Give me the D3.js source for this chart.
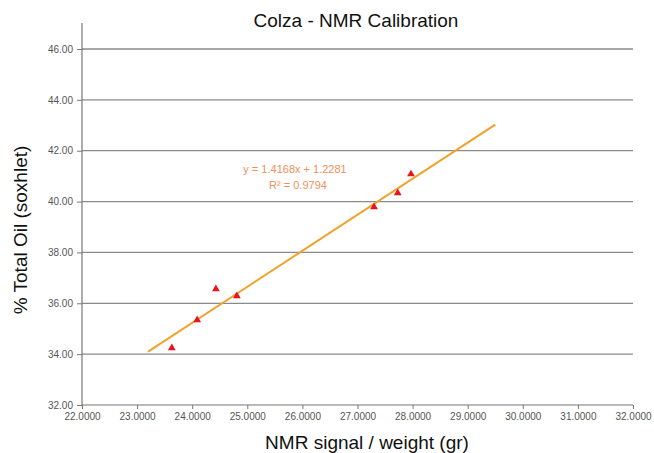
<!DOCTYPE html>
<html><head><meta charset="utf-8">
<script src="https://cdn.jsdelivr.net/npm/d3@7"></script>
<style>body{margin:0;background:#fff}svg{display:block}</style>
</head><body>
<svg id="c" width="654" height="453"></svg>
<script>
const xVals = [23.63, 24.09, 24.43, 24.81, 27.30, 27.73, 27.97];
const yVals = [34.24, 35.34, 36.56, 36.29, 39.79, 40.34, 41.08];
const xTicks = [22,23,24,25,26,27,28,29,30,31,32];
const yTicks = [32,34,36,38,40,42,44,46];
const trendSlope = 1.4168, trendIntercept = 1.2281;
const trendRange = [23.2, 29.5];
const eqText = ["y = 1.4168x + 1.2281", "R² = 0.9794"];

const svg = d3.select("#c");
const x = d3.scaleLinear().domain([22,32]).range([82,633]);
const y = d3.scaleLinear().domain([32,46]).range([405,49]);
const font = "Arial, 'Liberation Sans', sans-serif";

// gridlines
svg.append("g").selectAll("line").data(yTicks.filter(d=>d>32)).join("line")
  .attr("x1",x(22)).attr("x2",x(32)).attr("y1",d=>y(d)).attr("y2",d=>y(d))
  .attr("stroke","#8a8a8a").attr("stroke-width",1.3);

// axes
const yAxis = svg.append("g").attr("transform",`translate(${x(22)},0)`)
  .call(d3.axisLeft(y).tickValues(yTicks).tickFormat(d3.format(".2f")).tickSize(5).tickSizeOuter(0));
const xAxis = svg.append("g").attr("transform",`translate(0,${y(32)})`)
  .call(d3.axisBottom(x).tickValues(xTicks).tickFormat(d3.format(".4f")).tickSize(4).tickSizeOuter(0));
[yAxis,xAxis].forEach(a=>{
  a.select(".domain").remove();
  a.selectAll("line").attr("stroke","#777");
  a.selectAll("text").attr("fill","#555").style("font-family",font).style("font-size","10px");
});
xAxis.selectAll("text").attr("dy","0.8em");
yAxis.selectAll("text").attr("dx","-1");
svg.append("line").attr("x1",x(22)).attr("x2",x(22)).attr("y1",23).attr("y2",y(32))
  .attr("stroke","#777").attr("stroke-width",1.2);
svg.append("line").attr("x1",x(22)).attr("x2",x(32)).attr("y1",y(32)).attr("y2",y(32))
  .attr("stroke","#777").attr("stroke-width",1.2);

// trendline
svg.append("line")
  .attr("x1",x(trendRange[0])).attr("y1",y(trendSlope*trendRange[0]+trendIntercept))
  .attr("x2",x(trendRange[1])).attr("y2",y(trendSlope*trendRange[1]+trendIntercept))
  .attr("stroke","#f2a22a").attr("stroke-width",2);

// points
const tri = d3.symbol().type(d3.symbolTriangle).size(26);
svg.append("g").selectAll("path").data(xVals.map((v,i)=>[v,yVals[i]])).join("path")
  .attr("d",tri).attr("transform",d=>`translate(${x(d[0])},${y(d[1])})`)
  .attr("fill","#e8131b");

// equation
svg.append("text").attr("x",295).attr("y",173).attr("text-anchor","middle")
  .attr("fill","#f0905a").style("font-family",font).style("font-size","11px").text(eqText[0]);
svg.append("text").attr("x",298).attr("y",189).attr("text-anchor","middle")
  .attr("fill","#f0905a").style("font-family",font).style("font-size","11px").text(eqText[1]);

// titles
svg.append("text").attr("x",356).attr("y",27).attr("text-anchor","middle")
  .attr("fill","#111").style("font-family",font).style("font-size","19px").text("Colza - NMR Calibration");
svg.append("text").attr("x",367).attr("y",449).attr("text-anchor","middle")
  .attr("fill","#111").style("font-family",font).style("font-size","19px").text("NMR signal / weight (gr)");
svg.append("text").attr("transform","translate(27,230) rotate(-90)").attr("text-anchor","middle")
  .attr("fill","#111").style("font-family",font).style("font-size","19px").text("% Total Oil (soxhlet)");
</script>
</body></html>
